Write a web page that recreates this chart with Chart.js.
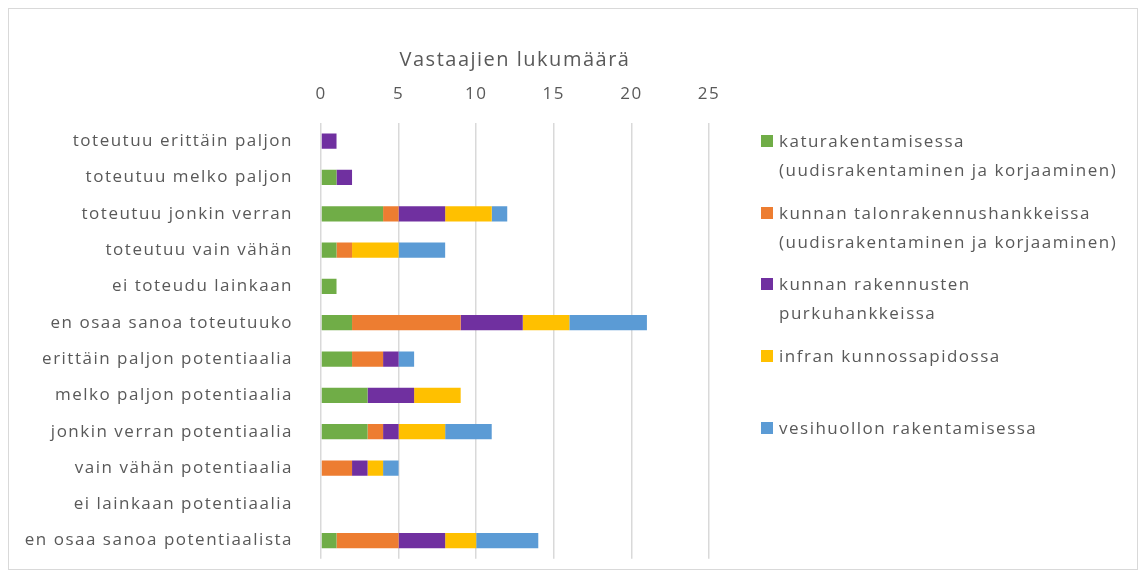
<!DOCTYPE html>
<html>
  <head>
    <title>Vastaajien lukumäärä</title>
    <script src="https://cdn.jsdelivr.net/npm/chart.js@4/dist/chart.umd.min.js"></script>
    <style>
      body {
        margin: 0;
        background: #fff;
        font-family: "Open Sans", sans-serif;
      }

      .frame {
        position: absolute;
        left: 8px;
        top: 8px;
        width: 1128px;
        height: 560px;
        border: 1px solid #d9d9d9;
      }

      #chart {
        position: absolute;
        left: 0;
        top: 0;
      }

      .legend {
        position: absolute;
        left: 0;
        top: 0;
        color: #595959;
        font-size: 17px;
        line-height: 29px;
        letter-spacing: 1.5px;
      }

      .legend-item {
        position: absolute;
        left: 770px;
        white-space: nowrap;
      }

      .legend-item .box {
        position: absolute;
        left: -18px;
        top: 9px;
        width: 12px;
        height: 12px;
      }
    </style>
  </head>
  <body>
    <div class="frame">
      <canvas id="chart" width="1128" height="580"></canvas>
      <div class="legend" id="legend"></div>
    </div>

    <script>
      const categories = [
        "toteutuu erittäin paljon",
        "toteutuu melko paljon",
        "toteutuu jonkin verran",
        "toteutuu vain vähän",
        "ei toteudu lainkaan",
        "en osaa sanoa toteutuuko",
        "erittäin paljon potentiaalia",
        "melko paljon potentiaalia",
        "jonkin verran potentiaalia",
        "vain vähän potentiaalia",
        "ei lainkaan potentiaalia",
        "en osaa sanoa potentiaalista"
      ];

      const seriesNames = [
        ["katurakentamisessa", "(uudisrakentaminen ja korjaaminen)"],
        ["kunnan talonrakennushankkeissa", "(uudisrakentaminen ja korjaaminen)"],
        ["kunnan rakennusten", "purkuhankkeissa"],
        ["infran kunnossapidossa"],
        ["vesihuollon rakentamisessa"]
      ];

      const katu = [0, 1, 4, 1, 1, 2, 2, 3, 3, 0, 0, 1];
      const talo = [0, 0, 1, 1, 0, 7, 2, 0, 1, 2, 0, 4];
      const purku = [1, 1, 3, 0, 0, 4, 1, 3, 1, 1, 0, 3];
      const infra = [0, 0, 3, 3, 0, 3, 0, 3, 3, 1, 0, 2];
      const vesi = [0, 0, 1, 3, 0, 5, 1, 0, 3, 1, 0, 4];

      const xTicks = [0, 5, 10, 15, 20, 25];

      const colors = ["#70ad47", "#ed7d31", "#7030a0", "#ffc000", "#5b9bd5"];
      const values = [katu, talo, purku, infra, vesi];

      const datasets = values.map((data, i) => ({
        label: seriesNames[i].join(" "),
        data: data,
        backgroundColor: colors[i],
        borderWidth: 0,
        barPercentage: 0.42,
        categoryPercentage: 1
      }));

      const textColor = "#595959";

      // the reference text is set quite loose, so widen the canvas text a bit
      const spacing = {
        id: "spacing",
        beforeLayout: (chart) => {
          chart.ctx.letterSpacing = "1.5px";
        },
        beforeDraw: (chart) => {
          chart.ctx.letterSpacing = "1.5px";
        }
      };

      new Chart("chart", {
        type: "bar",
        data: { labels: categories, datasets: datasets },
        plugins: [spacing],
        options: {
          indexAxis: "y",
          responsive: false,
          animation: false,
          layout: { padding: { left: 0, right: 428, top: 0, bottom: 13 } },
          plugins: {
            legend: { display: false },
            tooltip: { enabled: false }
          },
          scales: {
            x: {
              position: "top",
              stacked: true,
              min: 0,
              max: 25,
              afterBuildTicks: (axis) => {
                axis.ticks = xTicks.map((v) => ({ value: v }));
              },
              afterFit: (axis) => {
                axis.height = 114;
              },
              grid: { color: "#d9d9d9", lineWidth: 1.5, drawTicks: false },
              border: { display: false },
              ticks: {
                color: textColor,
                padding: 19,
                font: { family: "Open Sans", size: 17 }
              },
              title: {
                display: true,
                text: "Vastaajien lukumäärä",
                color: textColor,
                padding: { top: 39, bottom: 0 },
                font: { family: "Open Sans", size: 20 }
              }
            },
            y: {
              stacked: true,
              afterFit: (axis) => {
                axis.width = 312;
              },
              grid: { display: false },
              border: { display: false },
              ticks: {
                color: textColor,
                padding: 20,
                font: { family: "Open Sans", size: 17 }
              }
            }
          }
        }
      });

      const legendTops = [117, 189, 260, 332, 404];
      const legendDiv = document.getElementById("legend");
      seriesNames.forEach((lines, i) => {
        const item = document.createElement("div");
        item.className = "legend-item";
        item.style.top = legendTops[i] + "px";
        const box = document.createElement("span");
        box.className = "box";
        box.style.background = colors[i];
        item.appendChild(box);
        lines.forEach((line, j) => {
          if (j > 0) item.appendChild(document.createElement("br"));
          item.appendChild(document.createTextNode(line));
        });
        legendDiv.appendChild(item);
      });
    </script>
  </body>
</html>
